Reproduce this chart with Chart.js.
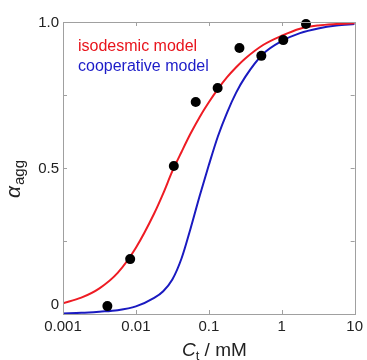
<!DOCTYPE html>
<html>
<head>
<meta charset="utf-8">
<script src="https://cdn.jsdelivr.net/npm/chart.js@4.4.1/dist/chart.umd.min.js"></script>
<style>
  html, body { margin: 0; padding: 0; background: #fff; }
</style>
</head>
<body>
<canvas id="chart" width="367" height="360"></canvas>
<script>
// concentrations (mM) where the model curves were read
const curveConc = [0.001, 0.00178, 0.00316, 0.00562, 0.01, 0.0178, 0.0237, 0.0316, 0.0422, 0.0562,
  0.075, 0.1, 0.133, 0.178, 0.237, 0.316, 0.562, 1, 1.78, 3.16, 5.62, 10];
const isodesmic = [0.037, 0.056, 0.088, 0.141, 0.227, 0.344, 0.413, 0.489, 0.555, 0.618,
  0.675, 0.725, 0.770, 0.811, 0.845, 0.875, 0.922, 0.953, 0.977, 0.988, 0.993, 0.996];
const cooperative = [0.002, 0.004, 0.008, 0.013, 0.026, 0.055, 0.078, 0.118, 0.19, 0.293,
  0.405, 0.51, 0.608, 0.69, 0.758, 0.812, 0.892, 0.935, 0.962, 0.978, 0.988, 0.993];

// measured points
const expConc = [0.00406, 0.00834, 0.0331, 0.0661, 0.132, 0.263, 0.525, 1.05, 2.15];
const expAgg = [0.027, 0.188, 0.507, 0.726, 0.774, 0.911, 0.884, 0.938, 0.993];

// ticks
const xTicks = [0.001, 0.01, 0.1, 1, 10];
const xTickLabels = ["0.001", "0.01", "0.1", "1", "10"];
const yTicks = [0, 0.25, 0.5, 0.75, 1];
const yTickLabels = ["0", "", "0.5", "", "1.0"];

const FONT = "'Liberation Sans', Arial, sans-serif";
const BOX = "#a0a0a0";

const toXY = (xs, ys) => xs.map((x, i) => ({ x: x, y: ys[i] }));

// box, inner ticks, y labels, axis titles and the in-plot legend
const decorations = {
  id: "decorations",
  afterDraw(chart) {
    const c = chart.ctx;
    const a = chart.chartArea;
    const xs = chart.scales.x, ys = chart.scales.y;
    c.save();
    c.strokeStyle = BOX;
    c.lineWidth = 1;
    c.strokeRect(Math.round(a.left) + 0.5, Math.round(a.top) + 0.5,
      Math.round(a.right - a.left), Math.round(a.bottom - a.top));

    const tl = 4;
    c.beginPath();
    xTicks.forEach(v => {
      const px = Math.round(xs.getPixelForValue(v)) + 0.5;
      if (px <= a.left + 1 || px >= a.right - 1) return;
      c.moveTo(px, a.bottom); c.lineTo(px, a.bottom - tl);
      c.moveTo(px, a.top); c.lineTo(px, a.top + tl);
    });
    yTicks.forEach(v => {
      const py = Math.round(ys.getPixelForValue(v)) + 0.5;
      if (py <= a.top + 1 || py >= a.bottom - 1) return;
      c.moveTo(a.left, py); c.lineTo(a.left + tl, py);
      c.moveTo(a.right, py); c.lineTo(a.right - tl, py);
    });
    c.stroke();

    // y tick labels (the "0" sits a little above the axis line)
    c.fillStyle = "#222";
    c.font = "15px " + FONT;
    c.textAlign = "right";
    c.textBaseline = "middle";
    yTicks.forEach((v, i) => {
      if (!yTickLabels[i]) return;
      let py = ys.getPixelForValue(v);
      if (v === 0) py -= 10;
      c.fillText(yTickLabels[i], a.left - 4, py + 1);
    });

    // x title: Ct / mM
    c.textAlign = "left";
    c.textBaseline = "alphabetic";
    let x = 182;
    const yb = 356;
    c.font = "italic 19px " + FONT;
    c.fillText("C", x, yb);
    x += c.measureText("C").width;
    c.font = "13px " + FONT;
    c.fillText("t", x, yb + 4);
    x += c.measureText("t").width;
    c.font = "19px " + FONT;
    c.fillText(" / mM", x, yb);

    // y title: alpha_agg, rotated
    c.translate(20, 198);
    c.rotate(-Math.PI / 2);
    c.font = "italic 21px " + FONT;
    c.fillText("\u03b1", 0, 0);
    const w = c.measureText("\u03b1").width;
    c.font = "15px " + FONT;
    c.fillText("agg", w + 1, 4);
    c.setTransform(1, 0, 0, 1, 0, 0);

    // legend text
    c.font = "16px " + FONT;
    c.textBaseline = "middle";
    c.fillStyle = "#e8141c";
    c.fillText("isodesmic model", 78, 47);
    c.fillStyle = "#1c1cc8";
    c.fillText("cooperative model", 78, 67);
    c.restore();
  }
};

new Chart(document.getElementById("chart"), {
  type: "line",
  data: {
    datasets: [
      {
        label: "data",
        data: toXY(expConc, expAgg),
        showLine: false,
        pointRadius: 5,
        pointBackgroundColor: "#000",
        pointBorderColor: "#000",
        pointBorderWidth: 0,
        clip: false
      },
      {
        label: "isodesmic model",
        data: toXY(curveConc, isodesmic),
        borderColor: "#ee1c24",
        borderWidth: 2,
        pointRadius: 0,
        cubicInterpolationMode: "monotone"
      },
      {
        label: "cooperative model",
        data: toXY(curveConc, cooperative),
        borderColor: "#1a1ac0",
        borderWidth: 2,
        pointRadius: 0,
        cubicInterpolationMode: "monotone"
      }
    ]
  },
  options: {
    responsive: false,
    animation: false,
    layout: { padding: { top: 22, right: 10, left: 0, bottom: 0 } },
    plugins: { legend: { display: false }, tooltip: { enabled: false } },
    scales: {
      x: {
        type: "logarithmic",
        min: 0.001,
        max: 10,
        afterBuildTicks: s => { s.ticks = xTicks.map(v => ({ value: v })); },
        afterFit: s => { s.height = 46; },
        grid: { display: false, drawTicks: false },
        border: { display: false },
        ticks: {
          autoSkip: false,
          maxRotation: 0,
          padding: 4,
          color: "#222",
          font: { family: FONT, size: 15 },
          callback: v => {
            const i = xTicks.indexOf(v);
            return i >= 0 ? xTickLabels[i] : "";
          }
        }
      },
      y: {
        type: "linear",
        min: 0,
        max: 1,
        afterFit: s => { s.width = 63; },
        grid: { display: false, drawTicks: false },
        border: { display: false },
        ticks: { display: false }
      }
    }
  },
  plugins: [decorations]
});
</script>
</body>
</html>
